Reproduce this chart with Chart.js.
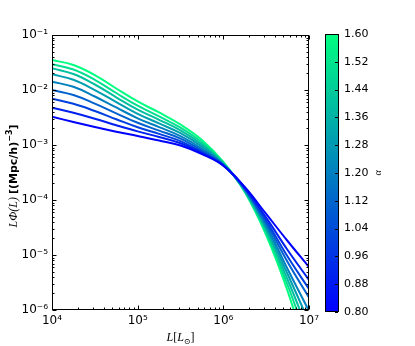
<!DOCTYPE html>
<html>
<head>
<meta charset="utf-8">
<script src="https://cdn.jsdelivr.net/npm/chart.js@4.4.0/dist/chart.umd.min.js"></script>
<style>
  html, body { margin: 0; padding: 0; background: #fff; }
</style>
</head>
<body>
<canvas id="lf" width="415" height="346"></canvas>
<script>
// luminosity grid (L_sun), quarter decades
const lum = [1e4, 1.778e4, 3.162e4, 5.623e4, 1e5, 1.778e5, 3.162e5, 5.623e5, 1e6, 1.778e6, 3.162e6, 5.623e6, 1e7];

// L*Phi(L) for each faint-end slope alpha
const phi080 = [3.27e-3, 2.62e-3, 2.125e-3, 1.745e-3, 1.457e-3, 1.207e-3, 9.79e-4, 6.86e-4, 4.22e-4, 1.723e-4, 5.57e-5, 1.797e-5, 6.05e-6];
const phi090 = [4.77e-3, 3.85e-3, 3.007e-3, 2.291e-3, 1.767e-3, 1.398e-3, 1.074e-3, 7.07e-4, 4.24e-4, 1.673e-4, 4.77e-5, 1.233e-5, 3.51e-6];
const phi100 = [6.95e-3, 5.61e-3, 4.15e-3, 2.945e-3, 2.106e-3, 1.591e-3, 1.177e-3, 7.43e-4, 4.27e-4, 1.632e-4, 4.24e-5, 9.39e-6, 2.409e-6];
const phi110 = [1.00e-2, 8.11e-3, 5.66e-3, 3.77e-3, 2.533e-3, 1.827e-3, 1.307e-3, 7.91e-4, 4.33e-4, 1.598e-4, 3.85e-5, 7.46e-6, 1.688e-6];
const phi120 = [1.415e-2, 1.143e-2, 7.62e-3, 4.81e-3, 3.06e-3, 2.116e-3, 1.451e-3, 8.56e-4, 4.40e-4, 1.558e-4, 3.48e-5, 5.57e-6, 9.59e-7];
const phi130 = [1.93e-2, 1.533e-2, 9.96e-3, 6.03e-3, 3.69e-3, 2.47e-3, 1.639e-3, 9.35e-4, 4.49e-4, 1.52e-4, 3.15e-5, 4.51e-6, 6.05e-7];
const phi140 = [2.48e-2, 1.95e-2, 1.259e-2, 7.37e-3, 4.40e-3, 2.872e-3, 1.843e-3, 1.021e-3, 4.61e-4, 1.482e-4, 2.847e-5, 3.585e-6, 3.817e-7];
const phi150 = [2.93e-2, 2.36e-2, 1.533e-2, 8.82e-3, 5.18e-3, 3.31e-3, 2.063e-3, 1.11e-3, 4.75e-4, 1.439e-4, 2.566e-5, 2.847e-6, 2.31e-7];
const phi160 = [3.51e-2, 2.85e-2, 1.87e-2, 1.065e-2, 6.18e-3, 3.90e-3, 2.36e-3, 1.233e-3, 4.91e-4, 1.40e-4, 2.31e-5, 2.22e-6, 1.233e-7];

const alphas = [0.8, 0.9, 1.0, 1.1, 1.2, 1.3, 1.4, 1.5, 1.6];
const series = [phi080, phi090, phi100, phi110, phi120, phi130, phi140, phi150, phi160];

const xTicks = [1e4, 1e5, 1e6, 1e7];
const yTicks = [1e-6, 1e-5, 1e-4, 1e-3, 1e-2, 1e-1];
const cbTicks = [0.80, 0.88, 0.96, 1.04, 1.12, 1.20, 1.28, 1.36, 1.44, 1.52, 1.60];
const cbMin = 0.8, cbMax = 1.6;

// matplotlib "winter" colormap
function winter(t) {
  return 'rgb(0,' + Math.round(255 * t) + ',' + Math.round(255 * (1 - 0.5 * t)) + ')';
}

const sup = {'-': '\u207B', '0': '\u2070', '1': '\u00B9', '2': '\u00B2', '3': '\u00B3',
  '4': '\u2074', '5': '\u2075', '6': '\u2076', '7': '\u2077', '8': '\u2078', '9': '\u2079'};
function pow10Label(v) {
  const e = Math.round(Math.log10(v));
  return '10' + String(e).split('').map(c => sup[c]).join('');
}

const sans = '"DejaVu Sans", sans-serif';
const serif = '"Liberation Serif", "DejaVu Serif", serif';

// draws a run of text pieces with different fonts, centred on (0,0)
function drawRun(ctx, pieces) {
  let w = 0;
  pieces.forEach(p => { ctx.font = p.font; p.w = ctx.measureText(p.t).width; w += p.w; });
  let x = -w / 2;
  pieces.forEach(p => {
    ctx.font = p.font;
    ctx.fillText(p.t, x, p.dy || 0);
    x += p.w;
  });
}

const decor = {
  id: 'decor',
  afterDraw(chart) {
    const {ctx, chartArea: a, scales} = chart;
    const xs = scales.x, ys = scales.y;
    ctx.save();
    ctx.strokeStyle = '#000';
    ctx.lineWidth = 1;
    const L = Math.round(a.left) + 0.5, R = Math.round(a.right) - 0.5;
    const T = Math.round(a.top) + 0.5, B = Math.round(a.bottom) - 0.5;

    // inward ticks, majors and log minors, on all four sides
    ctx.beginPath();
    for (let e = 4; e <= 7; e++) {
      for (let m = 1; m <= 9; m++) {
        const v = m * Math.pow(10, e);
        if (v > 1e7 * 1.0001) break;
        const px = Math.round(xs.getPixelForValue(v)) + 0.5;
        const len = m === 1 ? 4 : 2;
        ctx.moveTo(px, B); ctx.lineTo(px, B - len);
        ctx.moveTo(px, T); ctx.lineTo(px, T + len);
      }
    }
    for (let e = -6; e <= -1; e++) {
      for (let m = 1; m <= 9; m++) {
        const v = m * Math.pow(10, e);
        if (v > 0.10001) break;
        const py = Math.round(ys.getPixelForValue(v)) + 0.5;
        const len = m === 1 ? 4 : 2;
        ctx.moveTo(L, py); ctx.lineTo(L + len, py);
        ctx.moveTo(R, py); ctx.lineTo(R - len, py);
      }
    }
    ctx.stroke();
    ctx.strokeRect(L, T, R - L, B - T);

    // colour bar
    const cbL = 325, cbW = 14, cbT = a.top - 1, cbB = a.bottom + 2;
    const g = ctx.createLinearGradient(0, cbB, 0, cbT);
    g.addColorStop(0, winter(0));
    g.addColorStop(1, winter(1));
    ctx.fillStyle = g;
    ctx.fillRect(cbL, cbT, cbW, cbB - cbT);
    ctx.strokeRect(cbL + 0.5, cbT + 0.5, cbW - 1, cbB - cbT - 1);
    ctx.fillStyle = '#000';
    ctx.font = '11px ' + sans;
    ctx.textAlign = 'left';
    ctx.textBaseline = 'middle';
    ctx.beginPath();
    cbTicks.forEach(v => {
      const py = cbB - (v - cbMin) / (cbMax - cbMin) * (cbB - cbT);
      const ry = Math.round(py) + 0.5;
      ctx.moveTo(cbL + cbW - 1, ry); ctx.lineTo(cbL + cbW - 4, ry);
      ctx.fillText(v.toFixed(2), cbL + cbW + 5, py);
    });
    ctx.stroke();

    // alpha label on the colour bar
    ctx.save();
    ctx.translate(378, (cbT + cbB) / 2);
    ctx.rotate(-Math.PI / 2);
    ctx.textAlign = 'left';
    ctx.textBaseline = 'middle';
    drawRun(ctx, [{t: '\u03B1', font: 'italic 10px ' + serif}]);
    ctx.restore();

    // axis titles
    ctx.textBaseline = 'alphabetic';
    ctx.save();
    ctx.translate((a.left + a.right) / 2, 341);
    drawRun(ctx, [
      {t: 'L', font: 'italic 12px ' + serif},
      {t: '[', font: '12px ' + serif},
      {t: 'L', font: 'italic 12px ' + serif},
      {t: '\u2299', font: '8px ' + serif, dy: 3},
      {t: ']', font: '12px ' + serif}
    ]);
    ctx.restore();

    ctx.save();
    ctx.translate(17, 176);
    ctx.rotate(-Math.PI / 2);
    drawRun(ctx, [
      {t: 'L\u03A6(L) ', font: 'italic 12px ' + serif},
      {t: '[(Mpc/h)', font: 'bold 11px ' + sans},
      {t: '\u22123', font: 'bold 8px ' + sans, dy: -5},
      {t: ']', font: 'bold 11px ' + sans}
    ]);
    ctx.restore();
    ctx.restore();
  }
};

new Chart(document.getElementById('lf'), {
  type: 'line',
  data: {
    labels: lum,
    datasets: series.map((s, i) => ({
      label: 'alpha = ' + alphas[i].toFixed(1),
      data: s.map((v, j) => ({x: lum[j], y: v})),
      borderColor: winter((alphas[i] - cbMin) / (cbMax - cbMin)),
      borderWidth: 2,
      pointRadius: 0,
      fill: false,
      tension: 0.4
    }))
  },
  options: {
    responsive: false,
    animation: false,
    layout: { padding: { top: 35, right: 106, bottom: 0, left: 0 } },
    plugins: { legend: { display: false }, tooltip: { enabled: false } },
    scales: {
      x: {
        type: 'logarithmic',
        min: 1e4,
        max: 1e7,
        afterBuildTicks: s => { s.ticks = xTicks.map(v => ({value: v})); },
        afterFit: s => { s.height = 36; },
        grid: { display: false, drawTicks: false },
        border: { display: false },
        ticks: {
          autoSkip: false,
          maxRotation: 0,
          padding: 4,
          color: '#000',
          font: { family: 'DejaVu Sans', size: 12 },
          callback: v => pow10Label(v)
        }
      },
      y: {
        type: 'logarithmic',
        min: 1e-6,
        max: 1e-1,
        afterBuildTicks: s => { s.ticks = yTicks.map(v => ({value: v})); },
        afterFit: s => { s.width = 52; },
        grid: { display: false, drawTicks: false },
        border: { display: false },
        ticks: {
          autoSkip: false,
          padding: 4,
          color: '#000',
          font: { family: 'DejaVu Sans', size: 12 },
          callback: v => pow10Label(v)
        }
      }
    }
  },
  plugins: [decor]
});
</script>
</body>
</html>
